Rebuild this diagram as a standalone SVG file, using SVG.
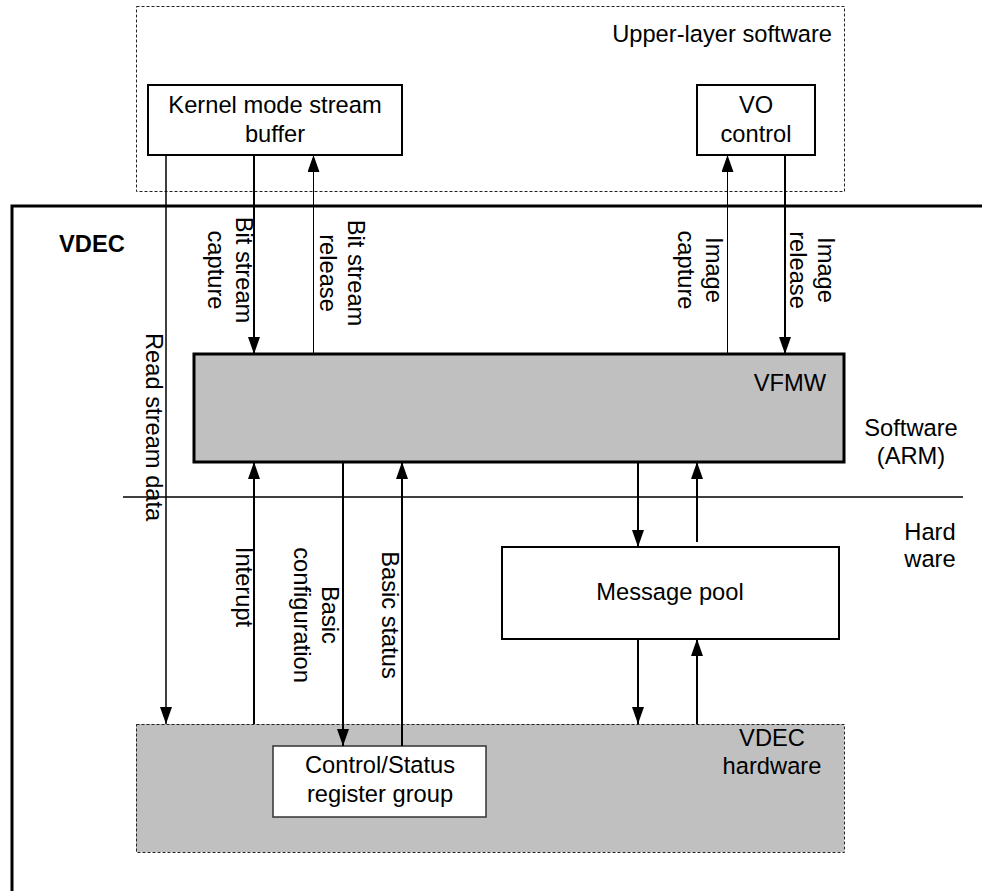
<svg xmlns="http://www.w3.org/2000/svg" width="982" height="891" viewBox="0 0 982 891">
<style>
text{font-family:"Liberation Sans",Arial,sans-serif;font-size:23.7px;fill:#000}
.c{text-anchor:middle}
.box{fill:#fff;stroke:#000;stroke-width:2}
.gray{fill:#c0c0c0}
.dash{fill:none;stroke:#222;stroke-width:1;stroke-dasharray:3 2}
.w{stroke:#000;stroke-width:2;fill:none}
.t{stroke:#000;stroke-width:1;fill:none}
</style>
<defs>
<marker id="ah" viewBox="0 0 17 12" refX="17" refY="6" markerWidth="17" markerHeight="12" markerUnits="userSpaceOnUse" orient="auto">
<path d="M0,0 L17,6 L0,12 z" fill="#000"/>
</marker>
</defs>
<rect width="982" height="891" fill="#fff"/>

<g id="upper-layer">
<rect x="136.5" y="6.5" width="708" height="185" class="dash"/>
<text x="832" y="42" text-anchor="end">Upper-layer software</text>
</g>

<g id="vdec-frame">
<path d="M982,206 H12 V891" fill="none" stroke="#000" stroke-width="3"/>
<text x="59" y="252" font-weight="bold">VDEC</text>
</g>

<g id="divider">
<line x1="123" y1="497" x2="963" y2="497" stroke="#000" stroke-width="1.5"/>
<text class="c" x="911" y="436">Software</text>
<text class="c" x="911" y="464">(ARM)</text>
<text class="c" x="930" y="540">Hard</text>
<text class="c" x="930" y="567">ware</text>
</g>

<g id="kernel-buffer">
<rect x="148" y="85" width="254" height="70" class="box"/>
<text class="c" x="275" y="113">Kernel mode stream</text>
<text class="c" x="275" y="142">buffer</text>
</g>

<g id="vo-control">
<rect x="697" y="85" width="118" height="70" class="box"/>
<text class="c" x="756" y="113">VO</text>
<text class="c" x="756" y="142">control</text>
</g>

<g id="vfmw">
<rect x="194" y="354" width="650" height="108" class="gray" stroke="#000" stroke-width="3"/>
<text x="826" y="391" text-anchor="end">VFMW</text>
</g>

<g id="message-pool">
<rect x="502" y="547" width="337" height="92" class="box"/>
<text class="c" x="670" y="600">Message pool</text>
</g>

<g id="vdec-hardware">
<rect x="136" y="724" width="708" height="128" class="gray"/>
<rect x="136.5" y="724.5" width="708" height="128" class="dash"/>
<text class="c" x="772" y="746">VDEC</text>
<text class="c" x="772" y="774">hardware</text>
</g>

<g id="ctrl-status">
<rect x="273" y="746" width="213" height="71" fill="#fff" stroke="#333" stroke-width="1.5"/>
<text class="c" x="380" y="773">Control/Status</text>
<text class="c" x="380" y="802">register group</text>
</g>

<g id="connectors">
<line x1="166" y1="155" x2="166" y2="724" stroke="#000" stroke-width="1.5" marker-end="url(#ah)"/>
<line x1="254" y1="155" x2="254" y2="354" class="w" marker-end="url(#ah)"/>
<line x1="313.5" y1="354" x2="313.5" y2="155" class="t" marker-end="url(#ah)"/>
<line x1="727.5" y1="354" x2="727.5" y2="155" class="t" marker-end="url(#ah)"/>
<line x1="785" y1="155" x2="785" y2="354" class="w" marker-end="url(#ah)"/>
<line x1="254" y1="724" x2="254" y2="462" class="w" marker-end="url(#ah)"/>
<line x1="343" y1="462" x2="343" y2="746" class="w" marker-end="url(#ah)"/>
<line x1="402" y1="746" x2="402" y2="462" class="w" marker-end="url(#ah)"/>
<line x1="638" y1="462" x2="638" y2="547" class="w" marker-end="url(#ah)"/>
<line x1="697" y1="542" x2="697" y2="462" class="w" marker-end="url(#ah)"/>
<line x1="638" y1="639" x2="638" y2="724" class="w" marker-end="url(#ah)"/>
<line x1="697" y1="724" x2="697" y2="639" class="w" marker-end="url(#ah)"/>

<text transform="translate(146,333) rotate(90)">Read stream data</text>
<text class="c" transform="translate(236,270) rotate(90)"><tspan x="0" y="0">Bit stream</tspan><tspan x="0" y="28">capture</tspan></text>
<text class="c" transform="translate(348,273) rotate(90)"><tspan x="0" y="0">Bit stream</tspan><tspan x="0" y="28">release</tspan></text>
<text class="c" transform="translate(706,270) rotate(90)"><tspan x="0" y="0">Image</tspan><tspan x="0" y="28">capture</tspan></text>
<text class="c" transform="translate(818,270) rotate(90)"><tspan x="0" y="0">Image</tspan><tspan x="0" y="28">release</tspan></text>
<text class="c" transform="translate(236,587) rotate(90)">Interupt</text>
<text class="c" transform="translate(322,615) rotate(90)"><tspan x="0" y="0">Basic</tspan><tspan x="0" y="28">configuration</tspan></text>
<text class="c" transform="translate(382,615) rotate(90)">Basic status</text>
</g>
</svg>
